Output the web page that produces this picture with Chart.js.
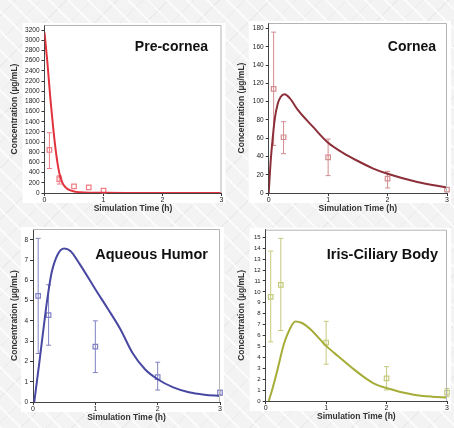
<!DOCTYPE html>
<html><head><meta charset="utf-8">
<script src="https://cdn.jsdelivr.net/npm/chart.js@4.4.1/dist/chart.umd.min.js"></script>
<style>
html,body{margin:0;padding:0;}
body{width:454px;height:428px;position:relative;overflow:hidden;
background:#f3f3f3;
background-image:repeating-linear-gradient(45deg,rgba(255,255,255,0.7) 0 2px,rgba(255,255,255,0) 2px 14px),repeating-linear-gradient(-45deg,rgba(225,225,225,0.5) 0 1px,rgba(255,255,255,0) 1px 18px);}
.p{position:absolute;width:227px;height:214px;}
</style></head><body>
<div class="p" style="left:0;top:0"><canvas id="c1"></canvas></div>
<div class="p" style="left:227px;top:0"><canvas id="c2"></canvas></div>
<div class="p" style="left:0;top:214px"><canvas id="c3"></canvas></div>
<div class="p" style="left:227px;top:214px"><canvas id="c4"></canvas></div>
<script>
// ---------- DATA ----------
// Pre-cornea
const preCurveT = [0,0.05,0.1,0.15,0.2,0.25,0.3,0.35,0.4,0.5,0.6,0.8,1.0,1.5,2.0,2.5,3.0];
const preCurveV = [3150,2550,1850,1250,750,400,210,120,70,30,15,6,3,1,0.5,0.2,0];
const preObsT = [0.083,0.25,0.5,0.75,1.0];
const preObsV = [845,273,130,110,45];
const preObsLo = [481,176,null,null,null];
const preObsHi = [1184,338,null,null,null];
const preTicks = [0,200,400,600,800,1000,1200,1400,1600,1800,2000,2200,2400,2600,2800,3000,3200];

// Cornea
const corCurveT = [0,0.03,0.06,0.1,0.15,0.2,0.27,0.35,0.5,0.75,1.0,1.25,1.5,1.75,2.0,2.5,3.0];
const corCurveV = [0,32,55,80,97,105,108,104,90,72,55,44,35,27,21,12,6];
const corObsT = [0.083,0.25,1.0,2.0,3.0];
const corObsV = [114,61,39,15.7,3.6];
const corObsLo = [52,43,19,5.5,null];
const corObsHi = [176,78,59,23.7,null];
const corTicks = [0,20,40,60,80,100,120,140,160,180];

// Aqueous Humor
const aqCurveT = [0.02,0.1,0.2,0.25,0.3,0.4,0.5,0.6,0.75,1.0,1.2,1.4,1.6,1.8,2.0,2.25,2.5,2.75,3.0];
const aqCurveV = [0,1.9,4.4,5.5,6.4,7.3,7.57,7.45,6.8,5.56,4.6,3.6,2.4,1.6,1.12,0.72,0.48,0.36,0.3];
const aqObsT = [0.083,0.25,1.0,2.0,3.0];
const aqObsV = [5.23,4.28,2.73,1.23,0.46];
const aqObsLo = [2.39,2.8,1.45,0.59,0.33];
const aqObsHi = [8.07,5.78,4.0,1.96,0.58];
const aqTicks = [0,1,2,3,4,5,6,7,8];

// Iris-Ciliary Body
const irCurveT = [0.05,0.1,0.19,0.3,0.4,0.49,0.6,0.74,1.0,1.2,1.46,1.65,1.84,2.02,2.25,2.45,2.75,3.0];
const irCurveV = [0,0.9,2.75,5.2,6.6,7.28,7.15,6.58,5.05,4.1,2.9,2.1,1.47,1.16,0.8,0.58,0.4,0.31];
const irObsT = [0.083,0.25,1.0,2.0,3.0];
const irObsV = [9.55,10.65,5.36,2.08,0.77];
const irObsLo = [5.42,6.46,3.37,1.01,0.4];
const irObsHi = [13.74,14.9,7.3,3.15,1.13];
const irTicks = [0,1,2,3,4,5,6,7,8,9,10,11,12,13,14,15];

const xTicks = [0,1,2,3];

// ---------- helpers ----------
const FONT = "'Liberation Sans', Arial, sans-serif";
const zip = (a,b)=>a.map((v,i)=>({x:v,y:b[i]}));

const panelPlugin = {
  id:'panelDeco',
  beforeDraw(chart, args, o){
    const {ctx, chartArea:ca} = chart;
    ctx.save();
    ctx.fillStyle = '#ffffff';
    ctx.fillRect(ca.left - o.whiteL, ca.top - 2, ca.right - ca.left + o.whiteL + 4, ca.bottom - ca.top + 12);
    ctx.restore();
  },
  afterDatasetsDraw(chart, args, o){
    const {ctx, chartArea:ca} = chart;
    ctx.save();
    ctx.strokeStyle = '#b4b4b4';
    ctx.lineWidth = 1;
    ctx.beginPath();
    ctx.moveTo(ca.left, ca.top+0.5); ctx.lineTo(ca.right-0.5, ca.top+0.5); ctx.lineTo(ca.right-0.5, ca.bottom);
    ctx.stroke();
    ctx.fillStyle = '#111';
    ctx.font = 'bold ' + o.size + 'px ' + FONT;
    ctx.textAlign = 'right';
    ctx.textBaseline = 'middle';
    ctx.fillText(o.text, ca.right - o.dx, ca.top + o.dy);
    ctx.restore();
  }
};

function makePanel(id, p){
  const ds = [];
  ds.push({type:'line', data: zip(p.curveT, p.curveV), borderColor:p.lineColor, borderWidth:2,
    pointRadius:0, tension:0.4, cubicInterpolationMode:'monotone', fill:false, order:1});
  p.obsT.forEach((t,i)=>{
    if (p.lo[i]==null) return;
    ds.push({type:'line', data:[{x:t,y:p.lo[i]},{x:t,y:p.hi[i]}], borderColor:p.markColor, borderWidth:1,
      pointStyle:'line', pointRadius:2.5, pointBorderColor:p.markColor, pointBorderWidth:1, showLine:true, clip:false, order:3});
  });
  ds.push({type:'scatter', data: zip(p.obsT, p.obsV), pointStyle:'rect', pointRadius:3.2, clip:false,
    pointBackgroundColor:'rgba(0,0,0,0)', pointBorderColor:p.markColor, pointBorderWidth:1.2, order:2});

  new Chart(document.getElementById(id), {
    data:{datasets:ds},
    plugins:[panelPlugin],
    options:{
      responsive:true, maintainAspectRatio:false, animation:false,
      layout:{padding:{left:0, right:p.padR, top:p.padT, bottom:p.padB}},
      plugins:{legend:{display:false}, tooltip:{enabled:false},
        panelDeco:{text:p.label, size:p.labelSize, dx:p.labelDx, dy:p.labelDy, whiteL:p.whiteL}},
      scales:{
        x:{type:'linear', min:0, max:3,
          afterBuildTicks:s=>{s.ticks = xTicks.map(v=>({value:v}));},
          afterFit:s=>{s.height = 21;},
          grid:{drawOnChartArea:false, drawTicks:true, tickLength:3, color:'#333'},
          border:{display:true, color:'#444', width:1},
          ticks:{font:{family:FONT, size:7}, color:'#222', padding:0, maxRotation:0, autoSkip:false,
            callback:v=>String(v)},
          title:{display:true, text:'Simulation Time (h)', font:{family:FONT, size:8.5, weight:'bold'}, color:'#333', padding:0}
        },
        y:{type:'linear', min:0, max:p.yMax,
          afterBuildTicks:s=>{s.ticks = p.yTicks.map(v=>({value:v}));},
          afterFit:s=>{s.width = p.yW;},
          grid:{drawOnChartArea:false, drawTicks:true, tickLength:3, color:'#333'},
          border:{display:true, color:'#444', width:1},
          ticks:{font:{family:FONT, size:p.tickSize}, color:'#222', padding:2, autoSkip:false,
            callback:v=>String(v)},
          title:{display:true, text:'Concentration (µg/mL)', font:{family:FONT, size:8.5, weight:'bold'}, color:'#333', padding:{top:10, bottom:0}}
        }
      }
    }
  });
}

makePanel('c1', {curveT:preCurveT, curveV:preCurveV, obsT:preObsT, obsV:preObsV, lo:preObsLo, hi:preObsHi,
  yTicks:preTicks, yMax:3300, lineColor:'#e2323e', markColor:'#ef7d84', tickSize:6.5,
  yW:44.5, padR:5.5, padT:25, padB:0, label:'Pre-cornea', labelSize:14, labelDx:13.5, labelDy:21.7, whiteL:22});
makePanel('c2', {curveT:corCurveT, curveV:corCurveV, obsT:corObsT, obsV:corObsV, lo:corObsLo, hi:corObsHi,
  yTicks:corTicks, yMax:186, lineColor:'#8c2f38', markColor:'#d38c8f', tickSize:6.5,
  yW:41.7, padR:7, padT:23, padB:0, label:'Cornea', labelSize:14, labelDx:11, labelDy:23.7, whiteL:20});
makePanel('c3', {curveT:aqCurveT, curveV:aqCurveV, obsT:aqObsT, obsV:aqObsV, lo:aqObsLo, hi:aqObsHi,
  yTicks:aqTicks, yMax:8.53, lineColor:'#4848a2', markColor:'#8282c4', tickSize:6.5,
  yW:33, padR:7, padT:15, padB:5, label:'Aqueous Humor', labelSize:14.5, labelDx:12, labelDy:26, whiteL:12});
makePanel('c4', {curveT:irCurveT, curveV:irCurveV, obsT:irObsT, obsV:irObsV, lo:irObsLo, hi:irObsHi,
  yTicks:irTicks, yMax:15.7, lineColor:'#a5ac38', markColor:'#c6ca7c', tickSize:6,
  yW:38.7, padR:7, padT:15.7, padB:6, label:'Iris-Ciliary Body', labelSize:14.5, labelDx:9, labelDy:25.3, whiteL:16});
</script>
</body></html>
